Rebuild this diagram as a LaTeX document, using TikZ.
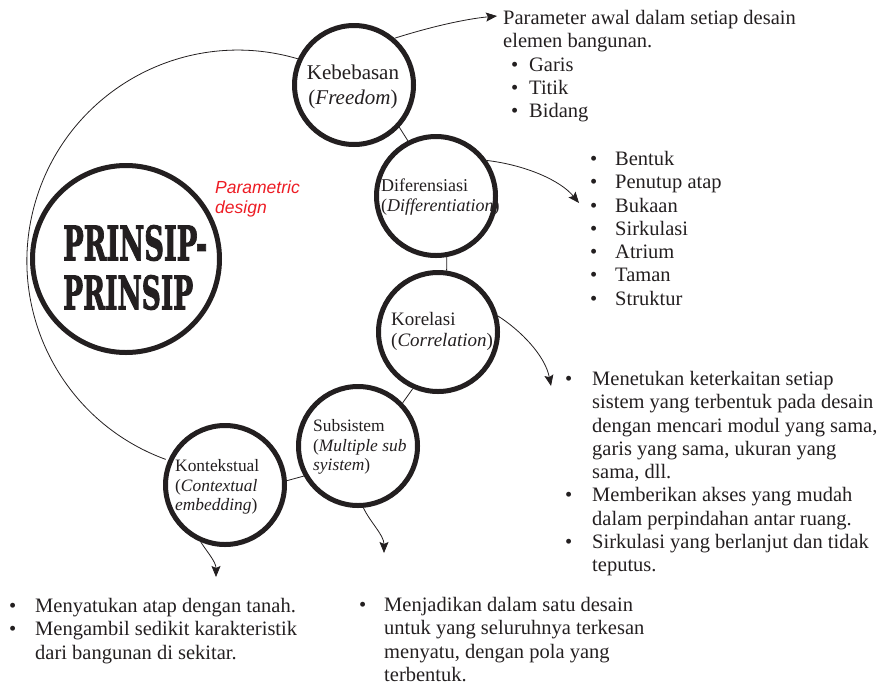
\documentclass[tikz,border=0pt]{standalone}
\usepackage{fontspec}
\setmainfont{Liberation Serif}
\newfontfamily\sansfont{Liberation Sans}
\newfontfamily\slabfont[BoldFeatures={FakeBold=2.5}]{DejaVu Serif}
\usepackage{xcolor}
\usepackage{graphicx}
\usepackage{tikz}
\usetikzlibrary{arrows.meta,positioning}

\definecolor{ink}{RGB}{35,31,32}
\definecolor{paramred}{RGB}{237,28,36}
\newcommand{\dotitem}[1]{\makebox[#1][l]{\textbullet}}

\tikzset{
  ring/.style={circle,draw=ink,fill=white,line width=5pt,minimum size=119pt,inner sep=0pt},
  ringtext/.style={align=left,anchor=west,text=ink,inner sep=0pt,font=\fontsize{17.4}{19.5}\selectfont},
  note/.style={align=left,text=ink,anchor=north west,inner sep=0pt,font=\fontsize{20.5}{23.3}\selectfont},
  link/.style={draw=ink,line width=0.8pt},
  pointer/.style={draw=ink,line width=0.8pt,-{Stealth[length=11pt,width=9pt,inset=2pt]}}
}

\begin{document}
\begin{tikzpicture}[x=1pt,y=-1pt]
\useasboundingbox (0,0) rectangle (888,686);

% the five principles
\node[ring] (keb) at (354,85) {};
\node[ring] (dif) at (436,196) {};
\node[ring] (kor) at (438,332) {};
\node[ring] (sub) at (358,446) {};
\node[ring] (kon) at (225,485) {};
\node[ring,minimum size=187pt] (prinsip) at (126,259) {};

\node[ringtext,anchor=center,align=center,font=\fontsize{21}{25}\selectfont] (kebtxt) at (353,87) {Kebebasan\\(\textit{Freedom})};
\node[ringtext,font=\fontsize{18}{19.5}\selectfont] (diftxt) at (381,197) {Diferensiasi\\(\textit{Differentiation})};
\node[ringtext,font=\fontsize{19}{21}\selectfont] (kortxt) at (391,331) {Korelasi\\(\textit{Correlation})};
\node[ringtext] (subtxt) at (313,447) {Subsistem\\(\textit{Multiple sub}\\\textit{syistem})};
\node[ringtext] (kontxt) at (175,487) {Kontekstual\\(\textit{Contextual}\\\textit{embedding})};

\node[anchor=north west,inner sep=0pt,align=left,text=ink,font=\fontsize{40}{49}\selectfont] (prinsiptxt) at (63,225)
  {\resizebox{144pt}{35pt}{\slabfont\bfseries PRINSIP-}\\\resizebox{130pt}{34pt}{\slabfont\bfseries PRINSIP}};
\node[anchor=north west,inner sep=0pt,align=left,text=paramred,font=\sansfont\itshape\fontsize{17.5}{19.5}\selectfont] (param) at (215,181) {Parametric\\design};

% thin ring through the principles
\draw[link] (keb.155) arc[start angle=-73.5,end angle=-250,radius=211];
\draw[link] (keb.-43) -- (dif.117);
\draw[link] (dif.-80) -- (kor.82);
\draw[link] (kor.-114) -- (sub.44);
\draw[link] (sub.209) -- (kon.4);

% explanations
\node[note] (partxt) at (503,10) {Parameter awal dalam setiap desain\\elemen bangunan.\\
  \hspace*{8pt}\dotitem{18pt}Garis\\\hspace*{8pt}\dotitem{18pt}Titik\\\hspace*{8pt}\dotitem{18pt}Bidang};
\node[note] (bentxt) at (590,151) {\dotitem{25pt}Bentuk\\\dotitem{25pt}Penutup atap\\\dotitem{25pt}Bukaan\\
  \dotitem{25pt}Sirkulasi\\\dotitem{25pt}Atrium\\\dotitem{25pt}Taman\\\dotitem{25pt}Struktur};
\node[note] (mentxt) at (565,371) {\dotitem{27pt}Menetukan keterkaitan setiap\\
  \hspace*{27pt}sistem yang terbentuk pada desain\\
  \hspace*{27pt}dengan mencari modul yang sama,\\
  \hspace*{27pt}garis yang sama, ukuran yang\\
  \hspace*{27pt}sama, dll.\\
  \dotitem{27pt}Memberikan akses yang mudah\\
  \hspace*{27pt}dalam perpindahan antar ruang.\\
  \dotitem{27pt}Sirkulasi yang berlanjut dan tidak\\
  \hspace*{27pt}teputus.};
\node[note] (atatxt) at (9,598) {\dotitem{26pt}Menyatukan atap dengan tanah.\\
  \dotitem{26pt}Mengambil sedikit karakteristik\\
  \hspace*{26pt}dari bangunan di sekitar.};
\node[note] (jaditxt) at (359,597) {\dotitem{25pt}Menjadikan dalam satu desain\\
  \hspace*{25pt}untuk yang seluruhnya terkesan\\
  \hspace*{25pt}menyatu, dengan pola yang\\
  \hspace*{25pt}terbentuk.};

% arrows to the explanations
\coordinate (tipkeb) at (497,16);
\coordinate (tipdif) at (579,203);
\coordinate (tipkor) at (551,386);
\coordinate (tipsub) at (384,553);
\coordinate (tipkon) at (216,577);
\draw[pointer] (keb.49) .. controls (430,27) and (465,19) .. (tipkeb);
\draw[pointer] (dif.35) .. controls (525,165) and (560,180) .. (tipdif);
\draw[pointer] (kor.15) .. controls (520,330) and (545,355) .. (tipkor);
\draw[pointer] (sub.-85) .. controls (370,522) and (384,535) .. (tipsub);
\draw[pointer] (kon.-113) .. controls (208,553) and (216,562) .. (tipkon);
\end{tikzpicture}
\end{document}
